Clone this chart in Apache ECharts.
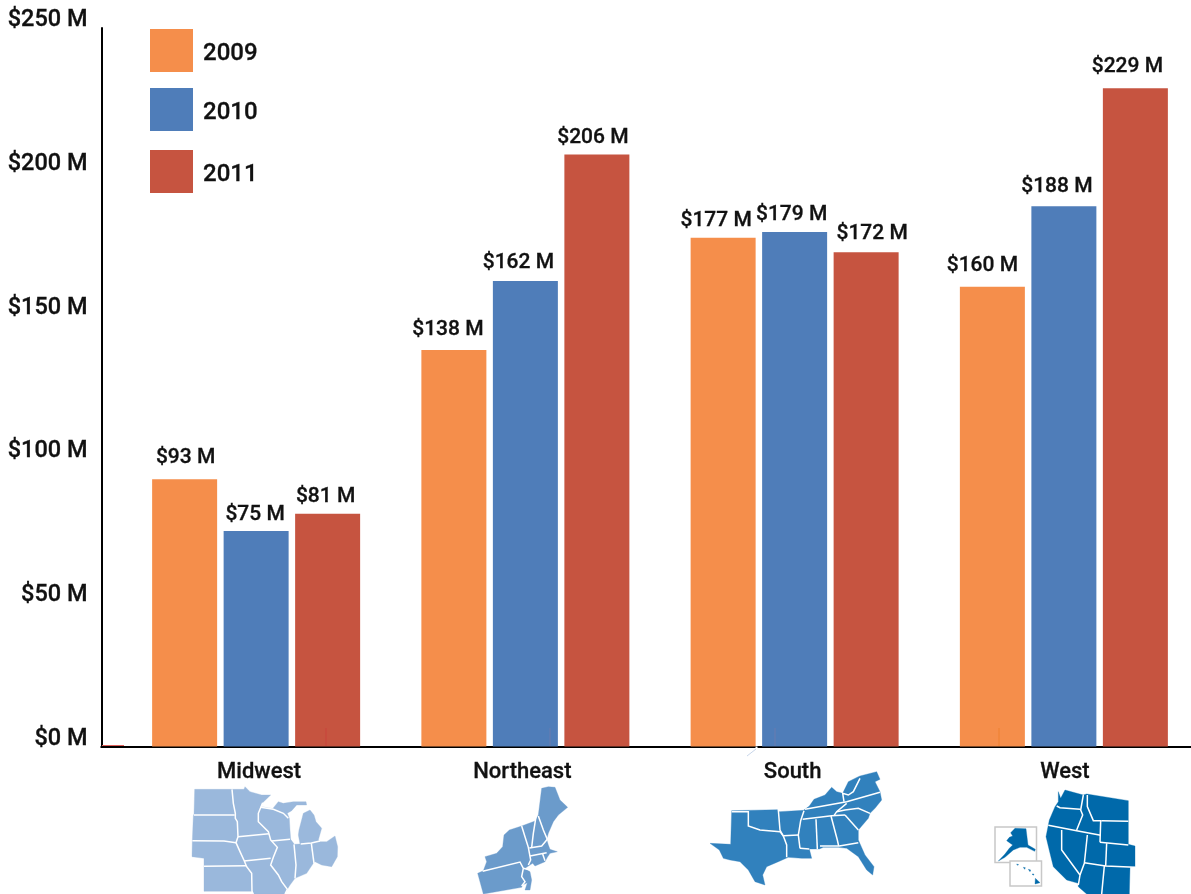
<!DOCTYPE html>
<html><head><meta charset="utf-8">
<style>html,body{margin:0;padding:0;background:#fff;overflow:hidden}#c{width:1191px;height:894px}</style>
<script src="https://cdn.jsdelivr.net/npm/echarts@6/dist/echarts.min.js"></script>
</head><body><div id="c"></div>
<script>
const categories = ['Midwest','Northeast','South','West'];
const seriesNames = ['2009','2010','2011'];
const values2009 = [93,138,177,160];
const values2010 = [75,162,179,188];
const values2011 = [81,206,172,229];
const yTicks = [0,50,100,150,200,250];

// label nudges (style only) [dx,dy]
const nudge2009 = [[1,-3],[-6,-2],[-7,1],[-10,-2]];
const nudge2010 = [[-1,2],[-7,0],[-3,1],[-7,-1]];
const nudge2011 = [[-2,2],[-4,2],[6,0],[-8,-3]];
const categoryNudge = [3,-3,-2,1];

const colors = ['#F58E4B','#4F7DB9','#C65440'];
const TXT = {fontFamily:'Roboto',fontWeight:500,color:'#111',textBorderColor:'#111',textBorderWidth:0.3};

// decorative region shapes, in 3x crop coordinates
const midwestShape = [[134,118],[245,118],[282,118],[285,110],[300,125],[335,135],[362,135],[338,158],[332,170],[368,176],[385,155],[400,160],[430,155],[468,155],[470,165],[440,165],[425,182],[412,190],[418,205],[420,240],[422,268],[433,283],[450,282],[445,255],[447,240],[460,190],[480,180],[492,195],[498,215],[515,235],[505,270],[510,275],[530,275],[555,258],[563,290],[562,320],[545,350],[515,345],[495,335],[490,340],[470,370],[442,382],[435,385],[420,405],[412,418],[405,432],[310,432],[306,424],[162,424],[162,325],[126,320],[127,270],[130,198],[132,192]];
const midwestBorders = [
 [[132,195],[254,195]],
 [[127,272],[222,273],[258,278]],
 [[162,349],[288,347]],
 [[246,118],[250,160],[256,190],[256,205],[262,215],[264,260],[258,278],[270,305],[283,333],[290,350],[305,370],[306,424],[310,432]],
 [[264,260],[357,251]],
 [[282,333],[362,325]],
 [[338,158],[325,190],[325,215],[355,245],[362,270],[382,292],[370,322],[362,345],[385,375],[395,395],[412,418],[405,432]],
 [[365,273],[420,268]],
 [[332,172],[370,178],[400,190],[415,205]],
 [[432,283],[438,345],[435,385]],
 [[484,280],[492,340]],
 [[452,282],[484,279],[510,273]]
];
const northeastShape = [[1175,115],[1195,110],[1215,112],[1230,150],[1253,172],[1225,195],[1210,215],[1195,250],[1190,268],[1195,285],[1200,298],[1222,305],[1200,310],[1192,322],[1185,335],[1155,348],[1148,340],[1125,355],[1140,365],[1145,390],[1140,420],[1125,420],[1132,398],[1118,405],[1115,412],[1000,432],[983,370],[1000,362],[1010,335],[1005,320],[1040,310],[1058,290],[1062,255],[1078,240],[1115,228],[1155,213],[1165,195]];
const northeastBorders = [
 [[1115,228],[1125,260],[1135,292],[1142,330],[1135,345]],
 [[998,364],[1110,336],[1120,355],[1115,380],[1125,395],[1115,408]],
 [[1158,200],[1150,250],[1145,292]],
 [[1165,198],[1180,240],[1192,268]],
 [[1138,294],[1175,288],[1192,268]],
 [[1140,318],[1190,308]],
 [[1178,312],[1185,332]],
 [[1120,355],[1140,360]]
];
const southShape = [[60,280],[122,283],[125,182],[262,179],[268,185],[340,181],[345,178],[358,168],[372,148],[405,135],[425,112],[440,125],[458,130],[475,95],[505,80],[510,78],[560,65],[570,88],[555,95],[570,125],[575,150],[555,175],[540,190],[535,205],[505,240],[505,270],[525,315],[552,350],[548,375],[530,360],[505,320],[470,295],[445,292],[400,292],[388,297],[358,297],[365,325],[335,325],[295,322],[265,335],[230,350],[218,375],[225,405],[195,395],[175,360],[150,335],[120,330],[100,325],[88,300]];
const southBorders = [
 [[125,185],[175,185],[175,228],[210,240],[270,245],[280,258]],
 [[280,258],[290,285],[290,322]],
 [[265,180],[270,240],[280,258]],
 [[280,257],[325,255]],
 [[342,182],[332,212],[325,255],[330,295]],
 [[330,295],[358,297]],
 [[338,208],[425,197],[465,195]],
 [[378,208],[382,297]],
 [[423,198],[442,270],[446,288]],
 [[390,288],[448,288],[505,278]],
 [[465,195],[505,240]],
 [[440,185],[465,180],[505,175],[540,190]],
 [[345,178],[470,155],[570,127]],
 [[470,160],[440,185],[432,197]],
 [[462,155],[458,130],[475,135],[490,125],[510,85]]
];
const westShape = [[1105,125],[1112,145],[1125,120],[1180,135],[1190,132],[1315,152],[1315,212],[1315,283],[1335,288],[1335,350],[1320,352],[1318,432],[1190,432],[1165,410],[1165,400],[1130,390],[1090,350],[1080,310],[1068,260],[1075,225],[1078,210],[1095,170],[1105,155]];
const westBorders = [
 [[1100,168],[1110,173],[1170,178]],
 [[1180,135],[1172,180],[1178,195],[1160,240]],
 [[1075,226],[1160,242],[1232,256]],
 [[1192,135],[1192,170],[1210,212],[1235,212]],
 [[1235,212],[1315,214]],
 [[1232,212],[1230,277]],
 [[1230,277],[1315,285]],
 [[1250,280],[1247,348]],
 [[1192,255],[1183,340],[1170,375]],
 [[1115,240],[1115,300],[1170,375],[1165,405]],
 [[1183,338],[1247,348],[1335,352]],
 [[1243,348],[1235,432]]
];
const alaskaShape = [[975,235],[1008,236],[1014,285],[1036,298],[1034,304],[1010,292],[990,292],[970,300],[945,322],[925,333],[945,312],[958,295],[968,285],[950,272],[958,262],[968,258],[962,248]];
const hawaiiShapes = [[[1036,385],[1050,398],[1035,402]],[[1015,358],[1022,360],[1020,365]],[[1000,352],[1006,353],[1004,358]],[[1026,372],[1032,372],[1030,376]],[[980,342],[986,344],[982,346]]];

function region(shapes, borders, fill, origin){
  const kids = shapes.map(p=>({type:'polygon',shape:{points:p},style:{fill:fill,stroke:fill,lineWidth:1}}));
  borders.forEach(b=>kids.push({type:'polyline',shape:{points:b},style:{fill:'none',stroke:'#fff',lineWidth:4.5}}));
  return {type:'group', x:origin[0], y:origin[1], scaleX:1/3, scaleY:1/3, silent:true, children:kids};
}
function lineEl(x1,y1,x2,y2,color,w){
  return {type:'line',shape:{x1,y1,x2,y2},style:{stroke:color,lineWidth:w},silent:true,z:5};
}
function rectBox(x,y,w,h){
  return {type:'rect',shape:{x,y,width:w,height:h},style:{fill:'#fff',stroke:'#c8c8c8',lineWidth:1.5},silent:true};
}
function makeSeries(i,vals,nudge){
  return {name:seriesNames[i],type:'bar',barWidth:65,barGap:'10%',
    itemStyle:{color:colors[i]},
    data:vals.map((v,k)=>({value:v,label:{offset:nudge[k]}})),
    label:{show:true,position:'top',distance:8,formatter:p=>'$'+p.value+' M',fontSize:21,...TXT},
    emphasis:{disabled:true},animation:false};
}
function legendOne(i,top){
  return {data:[seriesNames[i]],left:150,top:top,itemWidth:43,itemHeight:43,icon:'rect',orient:'horizontal',
    selectedMode:false,padding:0,formatter:n=>'{a|'+n+'}',
    textStyle:{fontSize:24,...TXT,rich:{a:{fontSize:24,...TXT,padding:[6,0,0,5]}}}};
}
const catRich = {};
categoryNudge.forEach((d,i)=>{ catRich['c'+i] = {fontSize:22,...TXT,padding:[0,d<0?-2*d:0,0,d>0?2*d:0]}; });
const chart = echarts.init(document.getElementById('c'),null,{renderer:'canvas'});
chart.setOption({
  animation:false,
  backgroundColor:'#fff',
  legend:[legendOne(0,29),legendOne(1,88),legendOne(2,150)],
  grid:{left:121.5,width:1077,top:28,height:718.5,outerBoundsMode:'none',containLabel:false},
  xAxis:{type:'category',data:categories,axisTick:{show:false},
    axisLine:{lineStyle:{color:'#000',width:2}},
    axisLabel:{margin:15,fontSize:22,...TXT,interval:0,rich:catRich,
      formatter:(v,i)=>'{c'+i+'|'+v+'}'}},
  yAxis:{type:'value',min:0,max:250,interval:50,offset:20,splitLine:{show:false},axisTick:{show:false},
    axisLine:{show:true,lineStyle:{color:'#000',width:2}},
    axisLabel:{margin:14,fontSize:23.5,...TXT,verticalAlign:'bottom',lineHeight:15,formatter:v=>'$'+v+' M'}},
  series:[makeSeries(0,values2009,nudge2009),makeSeries(1,values2010,nudge2010),makeSeries(2,values2011,nudge2011)],
  graphic:[
    lineEl(100.5,747,122,747,'#000',2),
    lineEl(102,745.5,124,745.5,'#e0605a',1),
    lineEl(326,728,326,746,'#c9433a',1),
    lineEl(550,728,550,746,'#6a7cae',1),
    lineEl(775,728,775,746,'#6a7cae',1),
    lineEl(999,728,999,746,'#ee8030',1),
    lineEl(756.5,746.5,756.5,748,'#fff',2),
    lineEl(756,749,747,756,'#c8d6ea',1),
    region([midwestShape],midwestBorders,'#9AB8DC',[150,750]),
    region([northeastShape],northeastBorders,'#6B9BCB',[150,750]),
    region([southShape],southBorders,'#3181BD',[690,750]),
    region([westShape],westBorders,'#0069AA',[690,750]),
    rectBox(995,827,41.5,35.5),
    rectBox(1010,861,31.5,25),
    region([alaskaShape],[],'#0069AA',[690,750]),
    region(hawaiiShapes,[],'#0069AA',[690,750])
  ]
});
</script></body></html>
